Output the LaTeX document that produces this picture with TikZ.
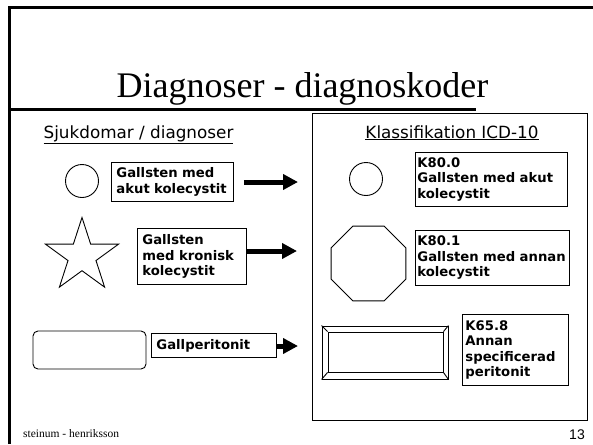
\documentclass[tikz,border=0pt]{standalone}
\usepackage{fontspec}
\setmainfont{Liberation Serif}
\newfontfamily\boxfont{DejaVu Sans}
\newfontfamily\numfont{Liberation Sans}
\usetikzlibrary{arrows.meta,shapes.geometric}

\begin{document}
\begin{tikzpicture}[x = 1pt, y = 1pt,
        ram/.style = {line width = 3pt},
        tunn/.style = {line width = 0.9pt},
        figur/.style = {draw, line width = 0.9pt, inner sep = 0pt},
        kod/.style = {draw, line width = 0.9pt, align = left, anchor = north west, inner ysep = 0pt,
            font = \boxfont\bfseries\fontsize{13.2}{15.5}\selectfont},
        rubrik/.style = {anchor = base, font = \boxfont\fontsize{16.8}{20}\selectfont},
        pil/.style = {line width = 5pt, -{Triangle[width = 15pt, length = 15pt]}}]
        \useasboundingbox (0.0, 0.0) rectangle (593.0, -444.0);

        \draw [ram] (9.0, -444.0) -- (9.0, -8.0) -- (593.0, -8.0);
        \draw [ram] (9.0, -109.0) -- (476.0, -109.0);
        \draw [tunn] (312.0, -113.0) rectangle (587.0, -420.0);

        \node [anchor = base, font = \fontsize{36}{40}\selectfont] (titel) at (302.5, -97.0) {Diagnoser - diagnoskoder};

        \node [rubrik] (sjukdomar) at (138.5, -138.0) {\underline{Sjukdomar / diagnoser}};
        \node [rubrik] (klass) at (452.0, -138.0) {\underline{Klassifikation ICD-10}};

        \node [figur, circle, minimum size = 33pt] (sten1) at (82.0, -181.0) {};
        \node [figur, star, star points = 5, star point ratio = 2.618, minimum size = 77pt] (sten2) at (82.0, -256.0) {};
        \node [figur, rounded corners = 5pt, minimum width = 113pt, minimum height = 38pt] (perit) at (89.5, -350.0) {};

        \node [kod, inner xsep = 5pt, text width = 112pt, minimum height = 39pt] (sjuk1) at (111.0, -162.0) {Gallsten med\\akut kolecystit};
        \node [kod, inner xsep = 5pt, text width = 99pt, minimum height = 56pt] (sjuk2) at (137.0, -228.0) {Gallsten\\med kronisk\\kolecystit};
        \node [kod, inner xsep = 5pt, text width = 115pt, minimum height = 24pt] (sjuk3) at (151.0, -333.0) {Gallperitonit};

        \coordinate (spets1) at (298.0, -182.0);
        \coordinate (spets2) at (297.0, -251.0);
        \coordinate (spets3) at (298.0, -346.0);

        \draw [pil, shorten < = 10pt] (sjuk1.east |- spets1) -- (spets1);
        \draw [pil] (sjuk2.east |- spets2) -- (spets2);
        \draw [pil] (sjuk3.east |- spets3) -- (spets3);

        \node [figur, circle, minimum size = 33pt] (k800) at (366.0, -179.0) {};
        \node [figur, regular polygon, regular polygon sides = 8, minimum size = 81pt] (k801) at (368.5, -263.5) {};
        \node [figur, minimum width = 126pt, minimum height = 53pt] (k658) at (385.0, -352.5) {};
        \node [figur, minimum width = 115pt, minimum height = 40pt] (k658inre) at (385.5, -352.0) {};

        \draw [tunn] (k658.north west) -- (k658inre.north west);
        \draw [tunn] (k658.north east) -- (k658inre.north east);
        \draw [tunn] (k658.south west) -- (k658inre.south west);
        \draw [tunn] (k658.south east) -- (k658inre.south east);

        \node [kod, inner xsep = 2pt, text width = 148pt, minimum height = 54pt] (kod1) at (415.0, -152.0) {K80.0\\Gallsten med akut\\kolecystit};
        \node [kod, inner xsep = 2pt, text width = 150pt, minimum height = 55pt] (kod2) at (415.0, -230.0) {K80.1\\Gallsten med annan\\kolecystit};
        \node [kod, inner xsep = 3pt, text width = 100pt, minimum height = 71pt] (kod3) at (462.0, -314.0) {K65.8\\Annan\\specificerad\\peritonit};

        \node [anchor = base west, inner sep = 0pt, font = \fontsize{11.5}{13}\selectfont] (fot) at (23.0, -437.0) {steinum - henriksson};
        \node [anchor = base east, inner sep = 0pt, font = \numfont\fontsize{14}{16}\selectfont] (sida) at (585.0, -439.0) {13};
    \end{tikzpicture}
\end{document}
